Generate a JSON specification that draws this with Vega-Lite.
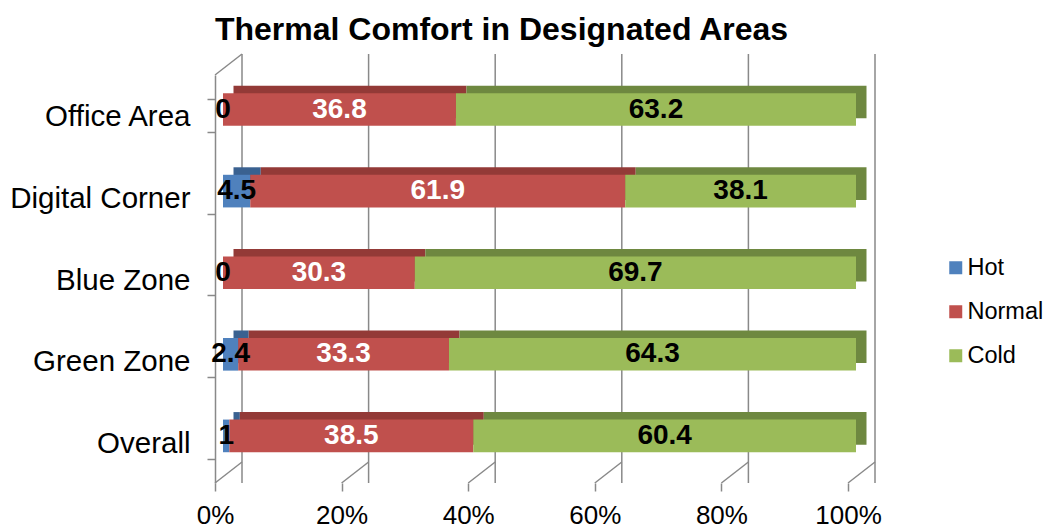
{
  "$schema": "https://vega.github.io/schema/vega-lite/v6.json",
  "width": 633,
  "height": 408,
  "autosize": "none",
  "padding": {"left": 215, "top": 75, "right": 198, "bottom": 45},
  "background": "white",
  "config": {
    "view": {"stroke": null},
    "font": "Liberation Sans"
  },
  "title": {
    "text": "Thermal Comfort in Designated Areas",
    "fontSize": 32,
    "fontWeight": "bold",
    "font": "Liberation Sans",
    "color": "black",
    "anchor": "middle",
    "dx": -30,
    "offset": 6
  },
  "datasets": {
    "bars": [
      {"area": "Office Area", "comfort": "Hot", "value": 0},
      {"area": "Office Area", "comfort": "Normal", "value": 36.8},
      {"area": "Office Area", "comfort": "Cold", "value": 63.2},
      {"area": "Digital Corner", "comfort": "Hot", "value": 4.5},
      {"area": "Digital Corner", "comfort": "Normal", "value": 61.9},
      {"area": "Digital Corner", "comfort": "Cold", "value": 38.1},
      {"area": "Blue Zone", "comfort": "Hot", "value": 0},
      {"area": "Blue Zone", "comfort": "Normal", "value": 30.3},
      {"area": "Blue Zone", "comfort": "Cold", "value": 69.7},
      {"area": "Green Zone", "comfort": "Hot", "value": 2.4},
      {"area": "Green Zone", "comfort": "Normal", "value": 33.3},
      {"area": "Green Zone", "comfort": "Cold", "value": 64.3},
      {"area": "Overall", "comfort": "Hot", "value": 1},
      {"area": "Overall", "comfort": "Normal", "value": 38.5},
      {"area": "Overall", "comfort": "Cold", "value": 60.4}
    ],
    "grid": [{"p": 0}, {"p": 0.2}, {"p": 0.4}, {"p": 0.6}, {"p": 0.8}, {"p": 1}]
  },
  "resolve": {"scale": {"y": "independent"}},
  "layer": [
    {
      "data": {"name": "grid"},
      "mark": {"type": "rule", "color": "#898989", "strokeWidth": 1.5, "xOffset": 27, "x2Offset": 27, "yOffset": -21, "y2Offset": -21},
      "encoding": {
        "x": {"field": "p", "type": "quantitative", "scale": {"domain": [0, 1]},
          "axis": {"format": "%", "values": [0, 0.2, 0.4, 0.6, 0.8, 1], "grid": false, "domain": false, "labelFlush": false, "tickColor": "#898989", "tickWidth": 1.5, "tickSize": 8, "labelFontSize": 26, "labelColor": "black", "labelPadding": 11, "title": null, "labelFont": "Liberation Sans"}}
      }
    },
    {
      "data": {"name": "grid"},
      "mark": {"type": "rule", "color": "#898989", "strokeWidth": 1.5, "x2Offset": 27, "y2Offset": -21},
      "encoding": {
        "x": {"field": "p", "type": "quantitative"},
        "x2": {"field": "p"},
        "y": {"datum": 0, "type": "quantitative", "scale": {"domain": [0, 1]}, "axis": null},
        "y2": {"datum": 0}
      }
    },
    {
      "data": {"values": [{"p": 0}]},
      "mark": {"type": "rule", "color": "#898989", "strokeWidth": 1.5, "x2Offset": 27, "y2Offset": -21},
      "encoding": {
        "x": {"field": "p", "type": "quantitative"},
        "x2": {"field": "p"},
        "y": {"datum": 1, "type": "quantitative", "scale": {"domain": [0, 1]}, "axis": null},
        "y2": {"datum": 1}
      }
    },
    {
      "data": {"name": "bars"},
      "transform": [
        {"calculate": "indexof(['Hot','Normal','Cold'], datum.comfort)", "as": "ord"},
        {"calculate": "datum.comfort + ' side'", "as": "shade"},
        {"stack": "value", "groupby": ["area"], "sort": [{"field": "ord"}], "offset": "normalize", "as": ["x0", "x1"]},
        {"calculate": "(datum.x0 + datum.x1) / 2", "as": "xm"}
      ],
      "encoding": {
        "y": {"field": "area", "type": "nominal", "sort": ["Office Area", "Digital Corner", "Blue Zone", "Green Zone", "Overall"],
          "scale": {"paddingInner": 0.6, "paddingOuter": 0.3},
          "axis": {"title": null, "labelFontSize": 29.5, "labelLimit": 400, "labelColor": "black", "labelFont": "Liberation Sans", "labelPadding": 17, "labelOffset": 1, "tickBand": "extent", "tickSize": 8, "tickColor": "#898989", "tickWidth": 1.5, "domainColor": "#898989", "domainWidth": 1.5, "grid": false}}
      },
      "layer": [
        {
          "mark": {"type": "bar", "xOffset": 18.5, "x2Offset": 18.5, "yOffset": -13.8, "y2Offset": -13.8},
          "encoding": {
            "x": {"field": "x0", "type": "quantitative"},
            "x2": {"field": "x1"},
            "color": {"field": "shade", "type": "nominal"}
          }
        },
        {
          "mark": {"type": "bar", "xOffset": 8, "x2Offset": 8, "yOffset": -6.3, "y2Offset": -6.3},
          "encoding": {
            "x": {"field": "x0", "type": "quantitative"},
            "x2": {"field": "x1"},
            "color": {"field": "comfort", "type": "nominal",
              "scale": {"domain": ["Hot", "Normal", "Cold", "Hot side", "Normal side", "Cold side"], "range": ["#4F81BD", "#C0504D", "#9BBB59", "#3A6190", "#933A37", "#6E8840"]},
              "legend": {"orient": "none", "legendX": 729, "legendY": 181, "values": ["Hot", "Normal", "Cold"], "title": null, "symbolType": "square", "symbolSize": 169, "symbolStrokeWidth": 0, "labelFontSize": 23.5, "labelFont": "Liberation Sans", "labelColor": "black", "rowPadding": 19, "labelOffset": 0}}
          }
        },
        {
          "transform": [{"filter": "datum.comfort === 'Normal'"}],
          "mark": {"type": "text", "fontSize": 28, "fontWeight": "bold", "font": "Liberation Sans", "dx": 8, "dy": -6.3, "color": "white"},
          "encoding": {
            "x": {"field": "xm", "type": "quantitative"},
            "text": {"field": "value", "type": "quantitative"}
          }
        },
        {
          "transform": [{"filter": "datum.comfort !== 'Normal'"}],
          "mark": {"type": "text", "fontSize": 28, "fontWeight": "bold", "font": "Liberation Sans", "dx": 8, "dy": -6.3, "color": "black"},
          "encoding": {
            "x": {"field": "xm", "type": "quantitative"},
            "text": {"field": "value", "type": "quantitative"}
          }
        }
      ]
    }
  ]
}
